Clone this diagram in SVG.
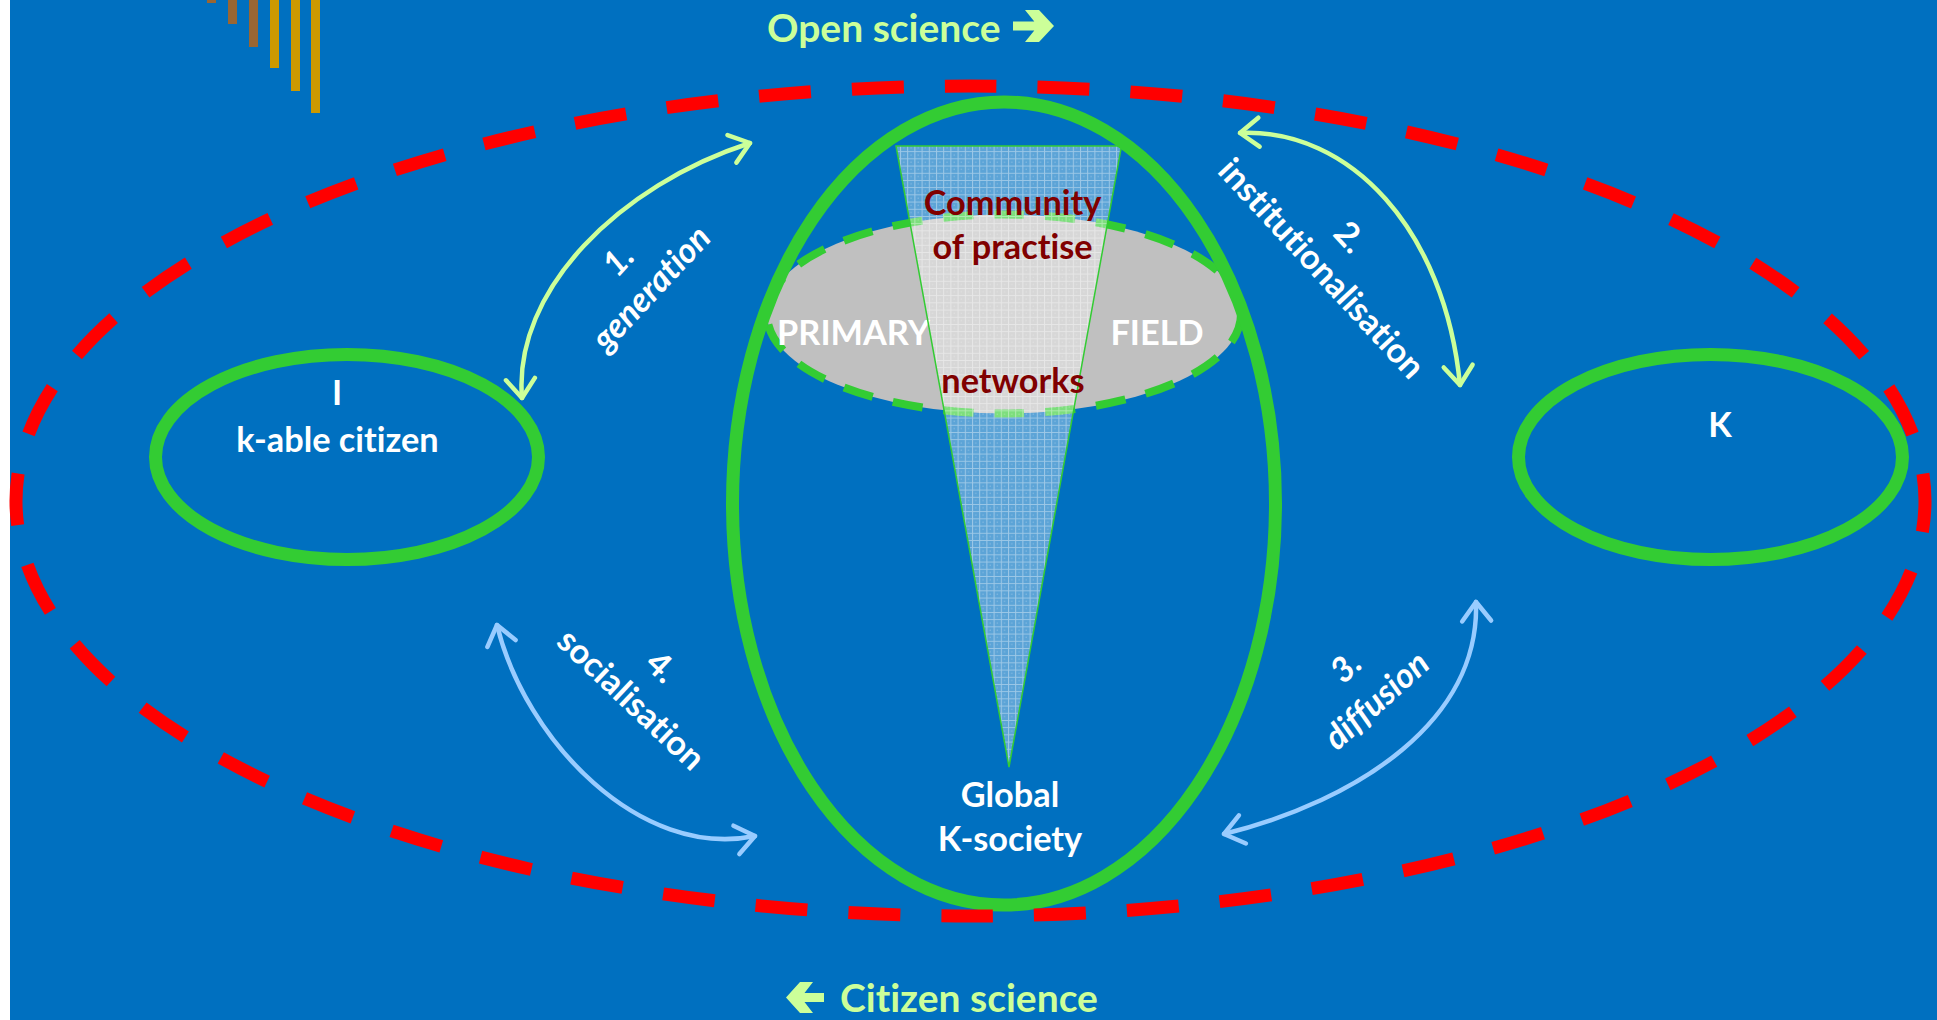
<svg xmlns="http://www.w3.org/2000/svg" width="1937" height="1020" viewBox="0 0 1937 1020">
  <defs>
    <style>
      text { font-variant-ligatures: none; font-feature-settings: "liga" 0, "clig" 0; }
      .lbl { font-family: Lato, "Open Sans", "Liberation Sans", sans-serif; font-weight: 700; font-size: 34.3px; text-anchor: middle; }
      .white { fill: #FFFFFF; }
      .dark { fill: #800000; }
      .title { font-family: Lato, "Open Sans", "Liberation Sans", sans-serif; font-weight: 700; font-size: 39px; fill: #CCFF99; }
      .ring { fill: none; stroke: #33CC33; stroke-width: 13; }
      .flow { fill: none; stroke-width: 4.5; stroke-linecap: round; }
      .flow-green { stroke: #CCFF99; marker-start: url(#headGreen); marker-end: url(#headGreen); }
      .flow-blue { stroke: #99CCFF; marker-start: url(#headBlue); marker-end: url(#headBlue); }
      .bar-brown { fill: #996633; }
      .bar-gold { fill: #CC9900; }
    </style>
    <marker id="headGreen" markerUnits="userSpaceOnUse" viewBox="-30 -20 40 40" markerWidth="40" markerHeight="40" refX="0" refY="0" orient="auto-start-reverse" overflow="visible">
      <path d="M-19,-14.5 L0,0 L-19,14.5" fill="none" stroke="#CCFF99" stroke-width="4.5" stroke-linecap="round" stroke-linejoin="round"/>
    </marker>
    <marker id="headBlue" markerUnits="userSpaceOnUse" viewBox="-30 -20 40 40" markerWidth="40" markerHeight="40" refX="0" refY="0" orient="auto-start-reverse" overflow="visible">
      <path d="M-19,-14.5 L0,0 L-19,14.5" fill="none" stroke="#99CCFF" stroke-width="4.5" stroke-linecap="round" stroke-linejoin="round"/>
    </marker>
    <!-- fine white mesh used inside the cone -->
    <pattern id="mesh" patternUnits="userSpaceOnUse" width="7.2" height="7.2">
      <rect width="7.2" height="7.2" fill="#FFFFFF" fill-opacity="0.36"/>
      <path d="M0,0.5 H7.2 M0.5,0 V7.2" stroke="#FFFFFF" stroke-opacity="0.4" stroke-width="1"/>
      <rect x="3.2" y="3.2" width="1.2" height="1.2" fill="#FFFFFF" fill-opacity="0.25"/>
    </pattern>
  </defs>

  <!-- page -->
  <rect x="0" y="0" width="1937" height="1020" fill="#FFFFFF"/>
  <rect x="10" y="0" width="1927" height="1020" fill="#0070C0"/>

  <!-- decorative bars, top left -->
  <g id="bars">
    <rect class="bar-brown" x="207" y="0" width="9" height="3"/>
    <rect class="bar-brown" x="228" y="0" width="9" height="24"/>
    <rect class="bar-brown" x="249" y="0" width="9" height="47"/>
    <rect class="bar-gold" x="270" y="0" width="9" height="68"/>
    <rect class="bar-gold" x="291" y="0" width="9" height="91"/>
    <rect class="bar-gold" x="311" y="0" width="9" height="113"/>
  </g>

  <!-- primary field (grey, dashed rim) -->
  <g id="primary-field">
    <ellipse cx="1004" cy="314" rx="237" ry="99.5" fill="#C0C0C0" stroke="#33CC33" stroke-width="8" stroke-dasharray="30 21"/>
    <text class="lbl white" x="853.5" y="345">PRIMARY</text>
    <text class="lbl white" x="1157" y="345">FIELD</text>
  </g>

  <!-- cone of community of practise / networks -->
  <g id="community-cone">
    <polygon points="896,146 1121.5,146 1009,767" fill="url(#mesh)" stroke="#33CC33" stroke-width="1.5"/>
    <text class="lbl dark" x="1012.5" y="215">Community</text>
    <text class="lbl dark" x="1012.5" y="259">of practise</text>
    <text class="lbl dark" x="1013" y="393">networks</text>
  </g>

  <!-- global knowledge society -->
  <g id="global-society">
    <ellipse class="ring" cx="1004" cy="503.5" rx="271.5" ry="401.5"/>
    <text class="lbl white" x="1010" y="807">Global</text>
    <text class="lbl white" x="1010" y="851">K-society</text>
  </g>

  <!-- individual -->
  <g id="citizen">
    <ellipse class="ring" cx="347" cy="457" rx="191.5" ry="102.5"/>
    <text class="lbl white" x="337" y="405">I</text>
    <text class="lbl white" x="337.5" y="452">k-able citizen</text>
  </g>

  <!-- knowledge -->
  <g id="knowledge">
    <ellipse class="ring" cx="1710.5" cy="457" rx="192" ry="102.5"/>
    <text class="lbl white" x="1720" y="437">K</text>
  </g>

  <!-- top and bottom captions -->
  <g id="open-science">
    <text class="title" x="767" y="41.5">Open science</text>
    <polygon points="1013,21.5 1034.3,21.5 1025,10 1039,10 1054,26 1039,42 1025,42 1034.3,30.5 1013,30.5" fill="#CCFF99"/>
  </g>
  <g id="citizen-science">
    <polygon points="824,993 804.5,993 813,982 800,982 786,997.5 800,1013 813,1013 804.5,1002 824,1002" fill="#CCFF99"/>
    <text class="title" x="840" y="1012">Citizen science</text>
  </g>

  <!-- the four transfer cycles -->
  <g id="connectors">
    <path class="flow flow-green" d="M522,398 C513,290 620,185 750,143"/>
    <path class="flow flow-green" d="M1240,133 C1350,128 1445,230 1460,385"/>
    <path class="flow flow-blue" d="M1476,602 C1480,720 1360,800 1224,834"/>
    <path class="flow flow-blue" d="M497,625 C525,740 640,860 755,836"/>
  </g>

  <g id="cycle-labels">
    <text class="lbl white" font-style="italic" transform="translate(618 260) rotate(-47)" y="12">1.</text>
    <text class="lbl white" font-style="italic" transform="translate(653 290) rotate(-47)" y="9">generation</text>
    <text class="lbl white" transform="translate(1350 237) rotate(47.2)" y="12">2.</text>
    <text class="lbl white" transform="translate(1321 269) rotate(47.2)" y="11">institutionalisation</text>
    <text class="lbl white" font-style="italic" transform="translate(1345.6 666.7) rotate(-42)" y="12">3.</text>
    <text class="lbl white" font-style="italic" transform="translate(1377.6 701.7) rotate(-42)" y="10">diffusion</text>
    <text class="lbl white" transform="translate(661.7 666.7) rotate(43.4)" y="12">4.</text>
    <text class="lbl white" transform="translate(630.7 700) rotate(43.4)" y="11">socialisation</text>
  </g>

  <!-- outer boundary, red long dashes -->
  <g id="boundary">
    <ellipse cx="970.5" cy="501" rx="954.5" ry="415" fill="none" stroke="#FF0000" stroke-width="13" stroke-dasharray="52 41" stroke-dashoffset="21"/>
  </g>
</svg>
